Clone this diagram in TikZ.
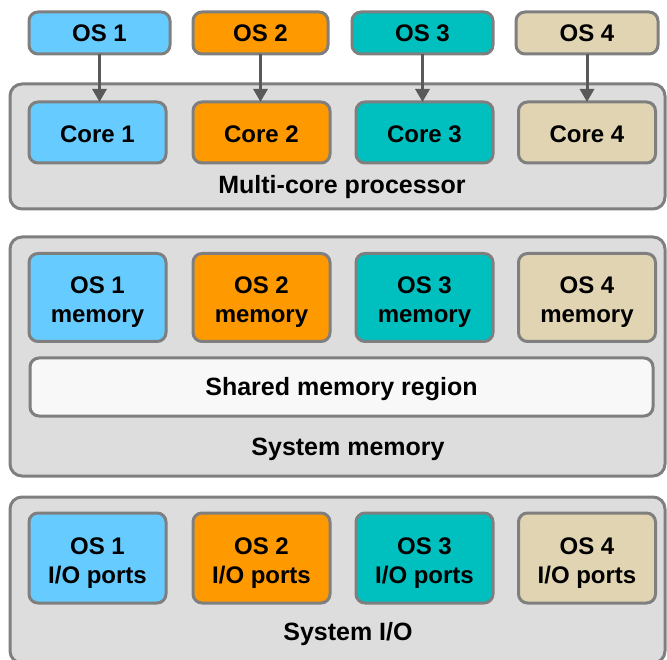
\documentclass[tikz,border=0pt]{standalone}
\usepackage{fontspec}
\setmainfont{Liberation Sans}
\usetikzlibrary{arrows.meta}
\definecolor{cblue}{HTML}{66CCFF}
\definecolor{corange}{HTML}{FF9900}
\definecolor{cteal}{HTML}{00BFBF}
\definecolor{ctan}{HTML}{E1D4B3}
\definecolor{cborder}{HTML}{7F7F7F}
\definecolor{cgroup}{HTML}{DDDDDD}
\definecolor{cshared}{HTML}{F8F8F8}
\definecolor{carrow}{HTML}{595959}
\begin{document}
\begin{tikzpicture}[x=1pt,y=-1pt,
  every node/.style={inner sep=0pt,outer sep=0pt,font=\fontsize{24}{29}\selectfont\bfseries,align=center},
  group/.style={draw=cborder,fill=cgroup,line width=3pt,rounded corners=12pt,minimum width=655pt},
  box/.style={draw=cborder,line width=3pt,rounded corners=9pt,minimum width=137pt},
  lbl/.style={font=\fontsize{25}{30}\selectfont\bfseries,yshift=-2.5pt},
  txt/.style={yshift=-5pt},
  arr/.style={draw=carrow,line width=3pt,-{Triangle[length=13pt,width=14pt]}}]
\useasboundingbox (0,0) rectangle (667,660);
\begin{scope}
\clip (0,0) rectangle (667,660);
% groups
\node[group,minimum height=125pt] (proc) at (337.5,146.5) {};
\node[group,minimum height=239pt] (mem) at (337.5,356.5) {};
\node[group,minimum height=166pt] (io) at (337.5,580) {};
\end{scope}
% OS boxes
\node[box,fill=cblue,minimum width=141pt,minimum height=42pt] (os1) at (99.5,33) {OS 1};
\node[box,fill=corange,minimum width=135pt,minimum height=42pt] (os2) at (260.5,33) {OS 2};
\node[box,fill=cteal,minimum width=141pt,minimum height=42pt] (os3) at (422.5,33) {OS 3};
\node[box,fill=ctan,minimum width=142pt,minimum height=42pt] (os4) at (587,33) {OS 4};
% cores
\node[box,fill=cblue,minimum height=61pt] (core1) at (97.5,132.5) {};
\node[box,fill=corange,minimum height=61pt] (core2) at (261.5,132.5) {};
\node[box,fill=cteal,minimum height=61pt] (core3) at (424.5,132.5) {};
\node[box,fill=ctan,minimum height=61pt] (core4) at (587,132.5) {};
\foreach \i in {1,2,3,4}{
  \node[yshift=-1.5pt] (core\i t) at (core\i) {Core \i};
}
\node[lbl] (proclbl) at (342,185) {Multi-core processor};
% arrows
\foreach \i in {1,2,3,4}{
  \draw[arr] (os\i.south) -- (os\i.south |- core\i.north);
}
% memory
\node[box,fill=cblue,minimum height=88pt] (mem1) at (97.5,297.5) {};
\node[box,fill=corange,minimum height=88pt] (mem2) at (261.5,297.5) {};
\node[box,fill=cteal,minimum height=88pt] (mem3) at (424.5,297.5) {};
\node[box,fill=ctan,minimum height=88pt] (mem4) at (587,297.5) {};
\foreach \i in {1,2,3,4}{
  \node[txt] (mem\i t) at (mem\i) {OS \i\\memory};
}
\node[box,fill=cshared,minimum width=623pt,minimum height=58pt] (shared) at (341.5,387) {};
\node[lbl] (sharedlbl) at (shared) {Shared memory region};
\node[lbl] (memlbl) at (348,447) {System memory};
% io
\node[box,fill=cblue,minimum height=90pt] (io1) at (97.5,558) {};
\node[box,fill=corange,minimum height=90pt] (io2) at (261.5,558) {};
\node[box,fill=cteal,minimum height=90pt] (io3) at (424.5,558) {};
\node[box,fill=ctan,minimum height=90pt] (io4) at (587,558) {};
\foreach \i in {1,2,3,4}{
  \node[txt] (io\i t) at (io\i) {OS \i\\I/O ports};
}
\node[lbl] (iolbl) at (348,632) {System I/O};
\end{tikzpicture}
\end{document}
